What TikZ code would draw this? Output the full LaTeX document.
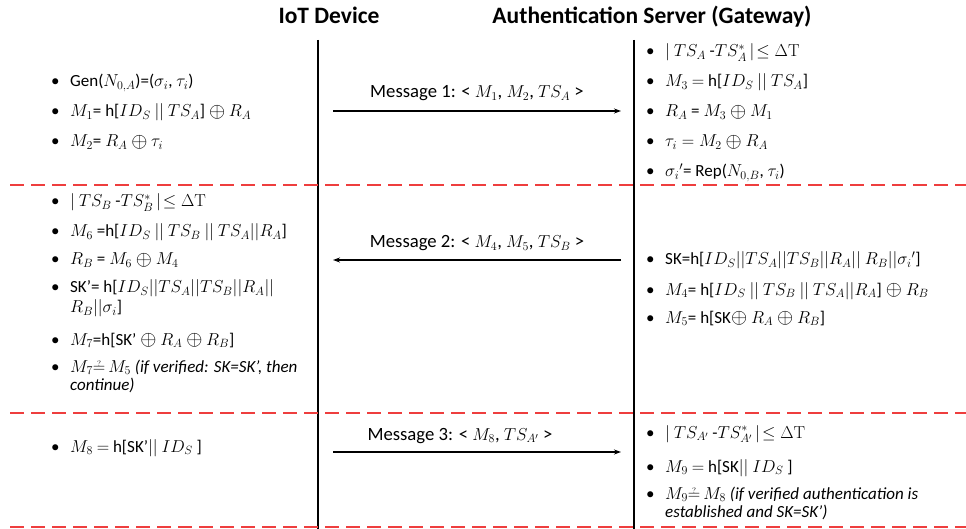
\documentclass[tikz,border=0pt]{standalone}
\usepackage{amsmath}
\usepackage[no-math]{fontspec}
\setmainfont{Carlito}
\usetikzlibrary{arrows.meta}
\definecolor{sepred}{RGB}{238,62,62}
% one bulleted line, and a bulleted item that wraps onto a second line
\newcommand\bul[1]{\makebox[19pt][l]{\textbullet}#1}
\newcommand\twoline[3]{\vtop{\baselineskip=#1\hbox{\makebox[19pt][l]{\textbullet}#2}\hbox{\hspace*{19pt}#3}}}
% "questioned equals" sign and a slightly larger xor
\newcommand\qeq{\mathrel{\ooalign{$=$\cr\hidewidth\raisebox{5.5pt}{\smash{$\scriptscriptstyle ?$}}\hidewidth\cr}}}
\newcommand\xor{\mathbin{\raisebox{-0.6pt}{\scalebox{1.2}{$\oplus$}}}}
\begin{document}
\begin{tikzpicture}[x=1pt,y=-1pt,
  font=\fontsize{17}{20}\selectfont,
  stepitem/.style={anchor=base west, inner sep=0pt},
  title/.style={font=\fontsize{23.5}{28}\selectfont\bfseries, anchor=base, inner sep=0pt},
  lifeline/.style={line width=2pt},
  sep/.style={draw=sepred, line width=2pt, dash pattern=on 14pt off 7pt},
  msg/.style={line width=1.2pt, -{Stealth[length=7pt,width=5pt]}},
  msglabel/.style={anchor=base, inner sep=0pt, font=\fontsize{18.7}{22}\selectfont}]
\useasboundingbox (0,0) rectangle (966,529);

% column headings
\node[title] (devtitle) at (329,24) {IoT Device};
\node[title] (srvtitle) at (652,24) {Authentication Server (Gateway)};

% lifelines
\coordinate (devtop) at (318,40);
\coordinate (devbot) at (318,529);
\coordinate (srvtop) at (634,40);
\coordinate (srvbot) at (634,529);
\draw[lifeline] (devtop) -- (devbot);
\draw[lifeline] (srvtop) -- (srvbot);

% phase separators
\coordinate (sepAl) at (10,185);  \coordinate (sepAr) at (966,185);
\coordinate (sepBl) at (10,413);  \coordinate (sepBr) at (966,413);
\coordinate (sepCl) at (10,527);  \coordinate (sepCr) at (966,527);
\draw[sep] (sepAl) -- (sepAr);
\draw[sep] (sepBl) -- (sepBr);
\draw[sep] (sepCl) -- (sepCr);

% messages
\coordinate (m1s) at (333,111); \coordinate (m1e) at (621,111);
\coordinate (m2s) at (621,260); \coordinate (m2e) at (333,260);
\coordinate (m3s) at (333,452); \coordinate (m3e) at (621,452);
\draw[msg] (m1s) -- (m1e);
\draw[msg] (m2s) -- (m2e);
\draw[msg] (m3s) -- (m3e);
\node[msglabel] (m1lab) at (477,98) {Message 1: < $M_1$, $M_2$, $TS_A$ >};
\node[msglabel] (m2lab) at (477,248) {Message 2: < $M_4$, $M_5$, $TS_B$ >};
\node[msglabel] (m3lab) at (460,440) {Message 3: < $M_8$, $TS_{A'}$ >};

% phase 1: device
\node[stepitem] (d1a) at (51,87)  {\bul{Gen($N_{0,A}$)=($\sigma_i$, $\tau_i$)}};
\node[stepitem] (d1b) at (51,117) {\bul{$M_1$= h[$ID_S\ ||\ TS_A$] $\xor$ $R_A$}};
\node[stepitem] (d1c) at (51,147) {\bul{$M_2$= $R_A \xor \tau_i$}};

% phase 1: server
\node[stepitem] (s1a) at (646,57)  {\bul{$|\ TS_A$ -$TS_A^*\,|\!\leq \Delta\mathrm{T}$}};
\node[stepitem] (s1b) at (646,87)  {\bul{$M_3$ $=$ h[$ID_S\ ||\ TS_A$]}};
\node[stepitem] (s1c) at (646,117) {\bul{$R_A$ = $M_3 \xor M_1$}};
\node[stepitem] (s1d) at (646,147) {\bul{$\tau_i = M_2 \xor R_A$}};
\node[stepitem] (s1e) at (646,177) {\bul{$\sigma_i{}'$= Rep($N_{0,B}$, $\tau_i$)}};

% phase 2: device
\node[stepitem] (d2a) at (51,207) {\bul{$|\ TS_B$ -$TS_B^*\,|\!\leq \Delta\mathrm{T}$}};
\node[stepitem] (d2b) at (51,237) {\bul{$M_6$ =h[$ID_S\ ||\ TS_B\ ||\ TS_A||R_A$]}};
\node[stepitem] (d2c) at (51,265) {\bul{$R_B$ = $M_6 \xor M_4$}};
\node[stepitem] (d2d) at (51,293) {\twoline{20pt}{SK’= h[$ID_S||TS_A||TS_B||R_A||$}{$R_B||\sigma_i$]}};
\node[stepitem] (d2e) at (51,345) {\bul{$M_7$=h[SK’ $\xor$ $R_A \xor R_B$]}};
\node[stepitem] (d2f) at (51,372) {\twoline{18pt}{$M_7{\qeq}\,M_5$ \textit{(if verified: SK=SK’, then}}{\textit{continue)}}};

% phase 2: server
\node[stepitem] (s2a) at (646,265) {\bul{SK=h[$ID_S||TS_A||TS_B||R_A||\ R_B||\sigma_i{}'$]}};
\node[stepitem] (s2b) at (646,295) {\bul{$M_4$= h[$ID_S\ ||\ TS_B\ ||\ TS_A||R_A$] $\xor$ $R_B$}};
\node[stepitem] (s2c) at (646,323) {\bul{$M_5$= h[SK$\xor$ $R_A \xor R_B$]}};

% phase 3: device
\node[stepitem] (d3a) at (51,452) {\bul{$M_8$ $=$ h[SK’$||$ $ID_S$ ]}};

% phase 3: server
\node[stepitem] (s3a) at (646,438) {\bul{$|\ TS_{A'}$ -$TS_{A'}^*\,|\!\leq \Delta\mathrm{T}$}};
\node[stepitem] (s3b) at (646,472) {\bul{$M_9$ $=$ h[SK$||$ $ID_S$ ]}};
\node[stepitem] (s3c) at (646,499) {\twoline{18pt}{$M_9{\qeq}\,M_8$ \textit{(if verified authentication is}}{\textit{established and SK=SK’)}}};
\end{tikzpicture}
\end{document}
